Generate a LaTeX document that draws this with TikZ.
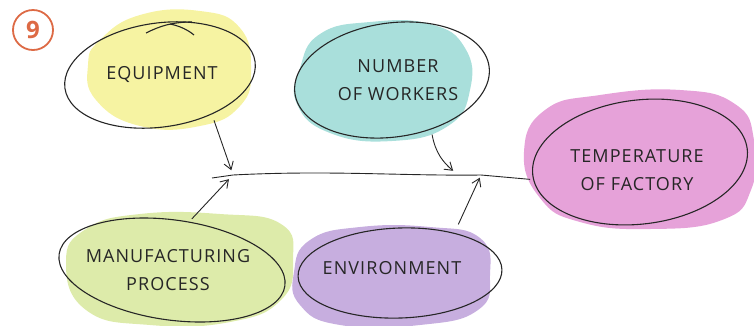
\documentclass[tikz,border=0pt]{standalone}
\usepackage{fontspec}
\setmainfont{Open Sans}[LetterSpace=6]
\usepackage{xcolor}
\usepackage{tikz}
\usetikzlibrary{arrows.meta,positioning,shapes.geometric}

\definecolor{badgeorange}{HTML}{DD6A45}
\definecolor{blobyellow}{HTML}{F6F3A2}
\definecolor{blobcyan}{HTML}{A9DFDB}
\definecolor{blobpink}{HTML}{E6A2D9}
\definecolor{blobgreen}{HTML}{DDEBAA}
\definecolor{blobpurple}{HTML}{C7AEDF}

\begin{document}
\begin{tikzpicture}[
  x=1pt, y=-1pt,
  >={Straight Barb[length=2.6mm, width=3.4mm]},
  label/.style={font=\fontsize{18}{28}\selectfont, text=black!85, align=center,
                ellipse, inner sep=0pt},
  outline/.style={black!85, line width=1.1pt},
  link/.style={->, black!85, line width=0.9pt},
]
  \useasboundingbox (0,0) rectangle (754,325);

  % colour blobs
  \fill[blobyellow] plot[smooth cycle, tension=0.8] coordinates
    {(100,40) (140,15) (200,11) (240,28) (251,70) (240,106) (200,126) (140,126) (96,100) (88,65)};
  \fill[blobcyan] plot[smooth cycle, tension=0.8] coordinates
    {(300,68) (320,34) (370,22) (430,24) (465,48) (470,90) (448,126) (392,141) (330,133) (297,104)};
  \fill[blobpink] plot[smooth cycle, tension=0.8] coordinates
    {(524,152) (545,110) (600,95) (680,90) (735,104) (754,140) (751,190) (722,220) (650,229) (580,222) (540,198)};
  \fill[blobgreen] plot[smooth cycle, tension=0.8] coordinates
    {(66,262) (86,229) (140,214) (220,214) (281,224) (293,260) (281,300) (230,322) (150,325) (86,310)};
  \fill[blobpurple] plot[smooth cycle, tension=0.8] coordinates
    {(294,272) (310,240) (360,227) (430,227) (480,238) (490,275) (478,310) (420,325) (340,325) (300,305)};

  % the labels
  \node[label, minimum width=190, minimum height=100] (equip) at (162,74) {EQUIPMENT};
  \node[label, minimum width=196, minimum height=116] (workers) at (398,80) {NUMBER\\OF WORKERS};
  \node[label, minimum width=216, minimum height=124] (temp) at (637,170) {TEMPERATURE\\OF FACTORY};
  \node[label, minimum width=224, minimum height=104] (manuf) at (168,270) {MANUFACTURING\\PROCESS};
  \node[label, minimum width=204, minimum height=92] (envir) at (392,268) {ENVIRONMENT};

  % hand drawn rings round the labels
  \draw[outline, rotate around={8:(160,75)}] (160,75) ellipse [x radius=96, y radius=52];
  \draw[outline] (146,33) .. controls (160,26) and (172,22) .. (192,22);
  \draw[outline] (170,24) .. controls (180,26) and (188,30) .. (194,35);
  \draw[outline, rotate around={8:(392,80)}] (392,80) ellipse [x radius=98, y radius=57];
  \draw[outline, rotate around={7:(640,162)}] (640,162) ellipse [x radius=108, y radius=62];
  \draw[outline, rotate around={-8:(172,270)}] (172,270) ellipse [x radius=114, y radius=50];
  \draw[outline, rotate around={2:(400,273)}] (400,273) ellipse [x radius=102, y radius=45];

  % number badge
  \node[draw=badgeorange, line width=1.8pt, circle, minimum size=40, inner sep=0pt,
        text=badgeorange, font=\fontsize{24}{24}\bfseries\selectfont] (badge) at (33,30) {9};

  % the line the causes feed into
  \coordinate (hub) at (212,178);
  \coordinate (jq) at (233,175);
  \coordinate (jm) at (231,177);
  \coordinate (jw) at (457,174);
  \coordinate (je) at (481,175);
  \draw[black!85, line width=0.9pt] (hub) -- (jq) .. controls (330,170) and (400,176) .. (je) -- (temp.185);

  % causes
  \draw[link, shorten <=4pt, shorten >=5pt] (equip.-40) -- (jq);
  \draw[link, shorten >=3pt] (manuf.65) -- (jm);
  \draw[link, shorten >=5pt] (workers.-58) to[out=-80, in=140] (jw);
  \draw[link, shorten <=8pt, shorten >=3pt] (envir.30) -- (je);
\end{tikzpicture}
\end{document}
